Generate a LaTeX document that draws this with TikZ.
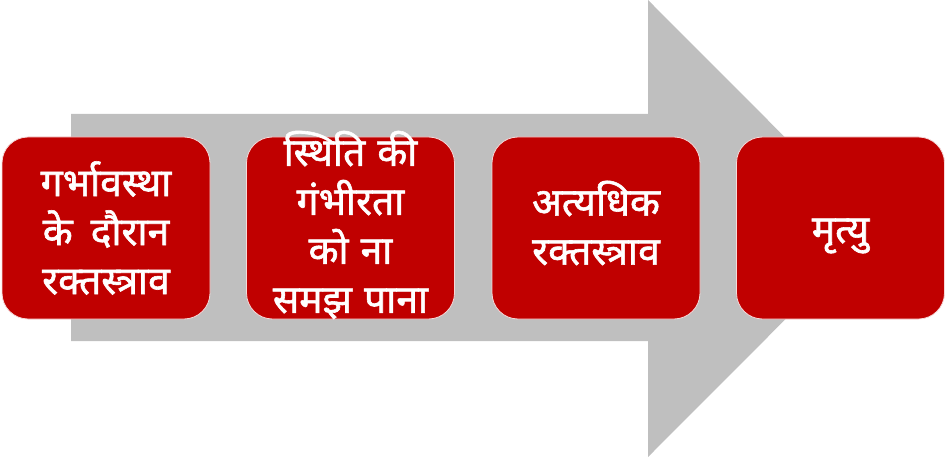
\documentclass[tikz,border=0pt]{standalone}
\usepackage{fontspec}
\newfontfamily\deva[Script=Devanagari, FakeBold=1.5]{Noto Sans}
\definecolor{boxred}{HTML}{C00000}
\definecolor{arrowgrey}{HTML}{BFBFBF}
\begin{document}
\begin{tikzpicture}[x=1pt,y=-1pt,
  stagebox/.style={draw=white!85!boxred, line width=0.8pt, fill=boxred, rounded corners=26pt,
    minimum width=208pt, minimum height=182pt, inner sep=0pt},
  stagetext/.style={text=white, align=center, font=\deva\fontsize{39}{49}\selectfont}]
\useasboundingbox (0,0) rectangle (947,457);
% big grey arrow
\fill[arrowgrey] (71,114) -- (648,114) -- (648,0) -- (876,228.5) -- (648,457) -- (648,341) -- (71,341) -- cycle;
% boxes
\node[stagebox] (b1) at (106,228) {};
\node[stagebox] (b2) at (350.5,228) {};
\node[stagebox] (b3) at (596,228) {};
\node[stagebox] (b4) at (840.5,228) {};
\node[stagetext] (t1) at (b1.center) {गर्भावस्था\\के\hspace{18pt}दौरान\\रक्तस्त्राव};
\node[stagetext] (t2) at ([yshift=3pt]b2.center) {स्थिति\hspace{12pt}की\\गंभीरता\\को\hspace{12pt}ना\\समझ\hspace{12pt}पाना};
\node[stagetext] (t3) at ([yshift=5pt]b3.center) {अत्यधिक\\रक्तस्त्राव};
\node[stagetext] (t4) at ([yshift=-8pt]b4.center) {मृत्यु};
\end{tikzpicture}
\end{document}
